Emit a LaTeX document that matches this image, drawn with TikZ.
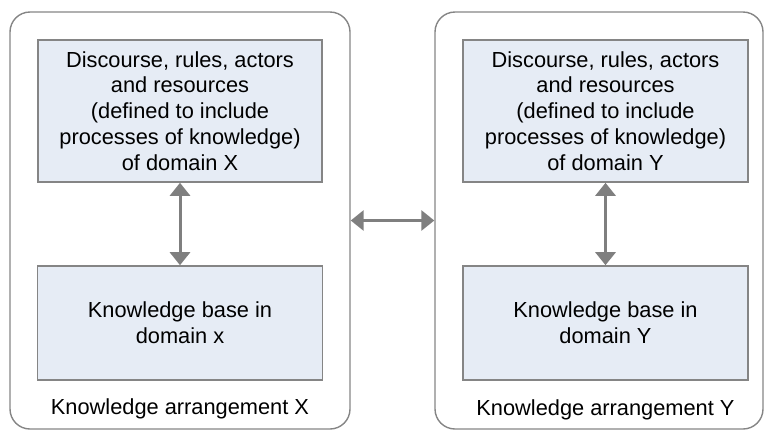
\documentclass[tikz,border=0pt]{standalone}
\usepackage{fontspec}
\setmainfont{Liberation Sans}
\usetikzlibrary{arrows.meta}
\definecolor{boxfill}{HTML}{E6ECF5}
\definecolor{boxline}{HTML}{858585}
\definecolor{arrowgrey}{HTML}{7F7F7F}
\tikzstyle{arrangement}=[draw=boxline, line width=1.4pt, rounded corners=20pt, inner sep=0pt]
\tikzstyle{content}=[draw=boxline, line width=1.6pt, fill=boxfill, align=center, inner sep=0pt,
  font=\fontsize{21.8}{25.8}\selectfont]
\tikzstyle{caption}=[font=\fontsize{21.8}{25}\selectfont]
\tikzstyle{link}=[draw=arrowgrey, line width=3pt, {Triangle[width=20pt,length=13pt]}-{Triangle[width=20pt,length=13pt]}]

\begin{document}
\begin{tikzpicture}[x=1pt, y=-1pt]
          \useasboundingbox (0, 0) rectangle (765, 432);
          \node[arrangement, minimum width=340, minimum height=417] (arrX) at (180, 220.5) {};
          \node[arrangement, minimum width=328, minimum height=417] (arrY) at (599, 220.5) {};
          \node[content, minimum width=284, minimum height=142] (discX) at (180, 111)
            {Discourse, rules, actors\\and resources\\(defined to include\\processes of knowledge)\\of domain X};
          \node[content, minimum width=285, minimum height=114] (baseX) at (180, 323)
            {Knowledge base in\\domain x};
          \node[content, minimum width=285, minimum height=142] (discY) at (605.5, 111)
            {Discourse, rules, actors\\and resources\\(defined to include\\processes of knowledge)\\of domain Y};
          \node[content, minimum width=285, minimum height=114] (baseY) at (605.5, 323)
            {Knowledge base in\\domain Y};
          \node[caption] (capX) at (180, 409) {Knowledge arrangement X};
          \node[caption] (capY) at (605.5, 410) {Knowledge arrangement Y};
          \draw[link] (discX) -- (baseX);
          \draw[link] (discY) -- (baseY);
          \draw[link] (arrX) -- (arrY);
        \end{tikzpicture}
\end{document}
